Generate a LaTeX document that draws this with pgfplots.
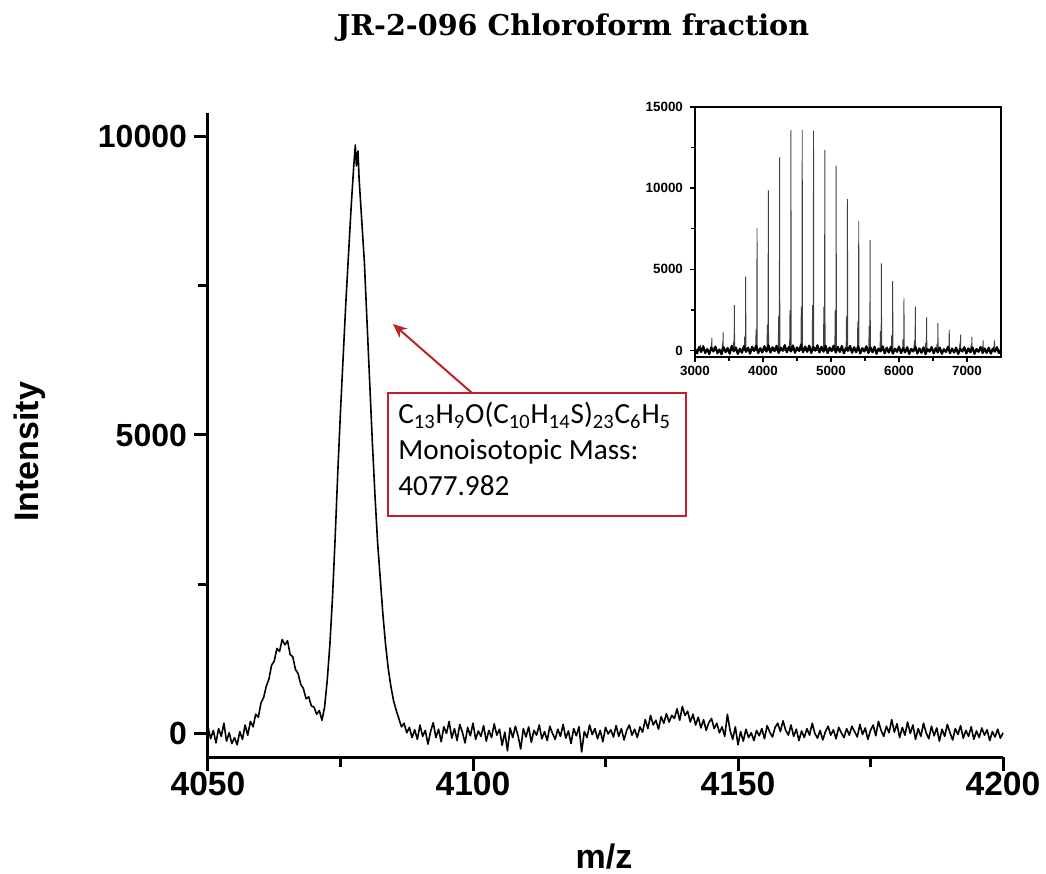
\documentclass[border=0pt]{standalone}
\usepackage{pgfplots}
\pgfplotsset{compat=1.18}
\usetikzlibrary{arrows.meta}
\usepackage{fontspec}
\setmainfont{Liberation Sans}
\newfontfamily\titlefont{DejaVu Serif}
\newfontfamily\calib{Carlito}
\definecolor{annred}{RGB}{192,32,38}
\begin{document}
\begin{tikzpicture}
\path[use as bounding box] (0,0) rectangle (523pt,437pt);
% ---------------- main spectrum ----------------
\begin{axis}[
  at={(104pt,58.5pt)}, anchor=south west,
  scale only axis, width=397.5pt, height=322pt,
  xmin=4050, xmax=4200, ymin=-385, ymax=10385,
  axis x line=bottom, axis y line=left,
  axis line style={line width=1.5pt,-},
  xtick={4050,4100,4150,4200}, minor xtick={4075,4125,4175},
  ytick={0,5000,10000}, minor ytick={2500,7500},
  tick align=outside,
  major tick length=7pt, minor tick length=5pt,
  major tick style={line width=1.5pt,black},
  minor tick style={line width=1.5pt,black},
  tick label style={font=\bfseries\fontsize{16}{16}\selectfont},
  xticklabel style={font=\bfseries\fontsize{16.8}{16.8}\selectfont, yshift=3pt},
  /pgf/number format/assume math mode=true,
  /pgf/number format/1000 sep={},
  scaled ticks=false,
  clip=false,
]
\addplot[black, line width=0.8pt, line join=round] table {
x y
4050.0 120
4050.5 -80
4051.0 60
4051.5 -150
4052.0 90
4052.5 -40
4053.0 180
4053.5 -120
4054.0 20
4054.5 -160
4055.0 -60
4055.5 -180
4056.0 40
4056.5 -90
4057.0 150
4057.5 -20
4058.0 210
4058.5 120
4059.0 330
4059.5 280
4060.0 520
4060.5 610
4061.0 800
4061.5 920
4062.0 1150
4062.5 1220
4063.0 1430
4063.5 1380
4064.0 1580
4064.5 1490
4065.0 1560
4065.5 1330
4066.0 1290
4066.5 1080
4067.0 1010
4067.5 830
4068.0 760
4068.5 590
4069.0 620
4069.5 470
4070.0 450
4070.5 330
4071.0 390
4071.5 230
4072.0 450
4072.5 900
4073.0 1500
4073.5 2300
4074.0 3300
4074.5 4400
4075.0 5400
4075.5 6300
4076.0 7200
4076.5 8000
4077.0 8800
4077.5 9500
4077.8 9850
4078.0 9500
4078.3 9750
4078.5 9300
4079.0 8600
4079.5 7900
4080.0 6900
4080.5 5900
4081.0 4900
4081.5 4000
4082.0 3200
4082.5 2600
4083.0 2000
4083.5 1500
4084.0 1100
4084.5 800
4085.0 560
4085.5 400
4086.0 260
4086.5 120
4087.0 180
4087.5 20
4088.0 110
4088.5 -60
4089.0 70
4089.5 -90
4090.0 150
4090.5 -40
4091.0 60
4091.5 -170
4092.0 40
4092.5 190
4093.0 -60
4093.5 80
4094.0 -130
4094.5 120
4095.0 10
4095.5 210
4096.0 -70
4096.5 90
4097.0 -110
4097.5 160
4098.0 30
4098.5 -150
4099.0 110
4099.5 -30
4100.0 180
4100.5 -90
4101.0 50
4101.5 -40
4102.0 140
4102.5 -120
4103.0 60
4103.5 -60
4104.0 170
4104.5 -20
4105.0 80
4105.5 -190
4106.0 30
4106.5 -280
4107.0 100
4107.5 -60
4108.0 130
4108.5 -30
4109.0 -250
4109.5 90
4110.0 -50
4110.5 120
4111.0 -140
4111.5 60
4112.0 -20
4112.5 150
4113.0 -80
4113.5 40
4114.0 -110
4114.5 130
4115.0 10
4115.5 -90
4116.0 80
4116.5 -40
4117.0 160
4117.5 -70
4118.0 50
4118.5 -160
4119.0 90
4119.5 -30
4120.0 120
4120.5 -300
4121.0 40
4121.5 -60
4122.0 150
4122.5 -10
4123.0 90
4123.5 -80
4124.0 60
4124.5 -130
4125.0 110
4125.5 0
4126.0 70
4126.5 -50
4127.0 140
4127.5 -40
4128.0 90
4128.5 -100
4129.0 60
4129.5 150
4130.0 -20
4130.5 80
4131.0 -60
4131.5 120
4132.0 30
4132.5 240
4133.0 90
4133.5 310
4134.0 150
4134.5 230
4135.0 80
4135.5 290
4136.0 180
4136.5 340
4137.0 200
4137.5 310
4138.0 260
4138.5 420
4139.0 230
4139.5 460
4140.0 310
4140.5 380
4141.0 200
4141.5 330
4142.0 150
4142.5 280
4143.0 100
4143.5 240
4144.0 60
4144.5 190
4145.0 260
4145.5 90
4146.0 180
4146.5 20
4147.0 120
4147.5 -40
4148.0 330
4148.5 60
4149.0 -90
4149.5 120
4150.0 -180
4150.5 40
4151.0 -120
4151.5 80
4152.0 -60
4152.5 20
4153.0 -110
4153.5 60
4154.0 -30
4154.5 90
4155.0 -80
4155.5 140
4156.0 30
4156.5 -50
4157.0 110
4157.5 180
4158.0 40
4158.5 220
4159.0 60
4159.5 -20
4160.0 150
4160.5 -40
4161.0 80
4161.5 -110
4162.0 50
4162.5 -60
4163.0 90
4163.5 -20
4164.0 180
4164.5 10
4165.0 -70
4165.5 60
4166.0 -100
4166.5 40
4167.0 130
4167.5 -20
4168.0 70
4168.5 -80
4169.0 110
4169.5 20
4170.0 -60
4170.5 90
4171.0 -20
4171.5 130
4172.0 40
4172.5 -50
4173.0 160
4173.5 -10
4174.0 100
4174.5 -90
4175.0 60
4175.5 150
4176.0 -30
4176.5 210
4177.0 60
4177.5 -40
4178.0 130
4178.5 20
4179.0 240
4179.5 30
4180.0 170
4180.5 -60
4181.0 110
4181.5 -20
4182.0 200
4182.5 10
4183.0 150
4183.5 -90
4184.0 90
4184.5 -40
4185.0 180
4185.5 20
4186.0 -80
4186.5 130
4187.0 -30
4187.5 100
4188.0 -120
4188.5 80
4189.0 -40
4189.5 160
4190.0 20
4190.5 -100
4191.0 90
4191.5 -10
4192.0 140
4192.5 -70
4193.0 60
4193.5 -40
4194.0 120
4194.5 -90
4195.0 50
4195.5 -60
4196.0 100
4196.5 -20
4197.0 70
4197.5 -110
4198.0 40
4198.5 -50
4199.0 80
4199.5 -70
4200.0 20
};
\end{axis}
% ---------------- inset ----------------
\begin{axis}[
  at={(347.5pt,258.5pt)}, anchor=south west,
  scale only axis, width=153pt, height=125pt,
  xmin=3000, xmax=7500, ymin=-400, ymax=15000,
  xtick={3000,4000,5000,6000,7000}, minor xtick={3500,4500,5500,6500},
  ytick={0,5000,10000,15000}, minor ytick={2500,7500,12500},
  xtick pos=left, ytick pos=left,
  tick align=outside,
  major tick length=2.5pt, minor tick length=1.8pt,
  axis line style={line width=0.7pt},
  major tick style={line width=0.7pt,black},
  minor tick style={line width=0.7pt,black},
  tick label style={font=\bfseries\fontsize{6.7}{6.7}\selectfont},
  xticklabel style={yshift=1.5pt},
  /pgf/number format/assume math mode=true,
  /pgf/number format/1000 sep={},
  scaled ticks=false,
]
\addplot[black!75, line width=0.45pt] table {
x y
3060 0
3066 70
3072 0
3076 0
3080 350
3084 0
3227 0
3233 150
3239 0
3243 0
3247 780
3251 0
3393 0
3399 210
3405 0
3409 0
3413 1120
3417 0
3559 0
3565 530
3571 0
3575 0
3579 2800
3583 0
3725 0
3731 860
3737 0
3741 0
3745 4550
3749 0
3892 0
3898 1300
3904 0
3908 0
3912 7550
3916 0
4058 0
4064 1600
4070 0
4074 0
4078 9860
4082 0
4224 0
4230 2100
4236 0
4240 0
4244 11900
4248 0
4391 0
4397 2500
4403 0
4407 0
4411 13570
4415 0
4557 0
4563 2700
4569 0
4573 0
4577 13590
4581 0
4723 0
4729 2800
4735 0
4739 0
4743 13530
4747 0
4889 0
4895 2700
4901 0
4905 0
4909 12350
4913 0
5056 0
5062 2500
5068 0
5072 0
5076 11390
5080 0
5222 0
5228 2100
5234 0
5238 0
5242 9330
5246 0
5388 0
5394 1800
5400 0
5404 0
5408 7980
5412 0
5555 0
5561 1500
5567 0
5571 0
5575 6800
5579 0
5721 0
5727 1200
5733 0
5737 0
5741 5370
5745 0
5887 0
5893 950
5899 0
5903 0
5907 4270
5911 0
6053 0
6059 720
6065 0
6069 0
6073 3220
6077 0
6220 0
6226 600
6232 0
6236 0
6240 2710
6244 0
6386 0
6392 450
6398 0
6402 0
6406 2040
6410 0
6552 0
6558 370
6564 0
6568 0
6572 1690
6576 0
6719 0
6725 280
6731 0
6735 0
6739 1290
6743 0
6885 0
6891 220
6897 0
6901 0
6905 980
6909 0
7051 0
7057 180
7063 0
7067 0
7071 840
7075 0
7217 0
7223 140
7229 0
7233 0
7237 630
7241 0
7384 0
7390 140
7396 0
7400 0
7404 630
7408 0
};
\addplot[black, line width=1.1pt, line join=round] table {
x y
3000 120
3030 -180
3060 210
3090 -90
3120 260
3150 -150
3180 90
3210 -220
3240 180
3270 -60
3300 240
3330 -170
3360 60
3390 -230
3420 200
3450 -100
3480 150
3510 -200
3540 280
3570 -50
3600 190
3630 -210
3660 110
3690 -140
3720 270
3750 -80
3780 170
3810 -190
3840 230
3870 -30
3900 300
3930 -160
3960 140
3990 -120
4020 260
4050 -70
4080 320
4110 -130
4140 200
4170 -40
4200 290
4230 -150
4260 180
4290 -20
4320 330
4350 -110
4380 220
4410 -60
4440 310
4470 -140
4500 190
4530 -30
4560 340
4590 -100
4620 240
4650 -80
4680 300
4710 -150
4740 210
4770 -10
4800 320
4830 -120
4860 230
4890 -70
4920 290
4950 -160
4980 180
5010 -40
5040 300
5070 -130
5100 220
5130 -90
5160 270
5190 -170
5220 160
5250 -20
5280 280
5310 -140
5340 200
5370 -100
5400 250
5430 -180
5460 140
5490 -60
5520 260
5550 -150
5580 190
5610 -110
5640 230
5670 -200
5700 120
5730 -50
5760 250
5790 -170
5820 170
5850 -130
5880 220
5910 -190
5940 110
5970 -80
6000 240
6030 -160
6060 150
6090 -120
6120 200
6150 -210
6180 100
6210 -60
6240 230
6270 -180
6300 130
6330 -140
6360 190
6390 -220
6420 90
6450 -70
6480 210
6510 -170
6540 140
6570 -120
6600 180
6630 -200
6660 80
6690 -90
6720 220
6750 -160
6780 120
6810 -130
6840 170
6870 -210
6900 100
6930 -60
6960 200
6990 -180
7020 130
7050 -110
7080 190
7110 -200
7140 90
7170 -80
7200 210
7230 -150
7260 120
7290 -140
7320 170
7350 -190
7380 110
7410 -70
7440 200
7470 -160
7500 90
};
\end{axis}
% ---------------- texts ----------------
\node[font=\titlefont\bfseries\fontsize{14.3}{16}\selectfont] at (286.5pt,423pt) {JR-2-096 Chloroform fraction};
\node[rotate=90, font=\bfseries\fontsize{17}{17}\selectfont] at (15pt,211pt) {Intensity};
\node[font=\bfseries\fontsize{17}{17}\selectfont] at (302pt,8.5pt) {m/z};
% annotation
\draw[annred, line width=1pt, -{Stealth[length=7pt,width=6pt]}] (236pt,240.5pt) -- (196.5pt,275pt);
\draw[annred, line width=1pt, fill=white] (194pt,240.5pt) rectangle (343pt,179pt);
\node[anchor=north west, align=left, inner sep=0pt, font=\calib\fontsize{14.6}{18}\selectfont] at (199pt,236pt)
  {C\textsubscript{13}H\textsubscript{9}O(C\textsubscript{10}H\textsubscript{14}S)\textsubscript{23}C\textsubscript{6}H\textsubscript{5}\\Monoisotopic Mass:\\4077.982};
\end{tikzpicture}
\end{document}
